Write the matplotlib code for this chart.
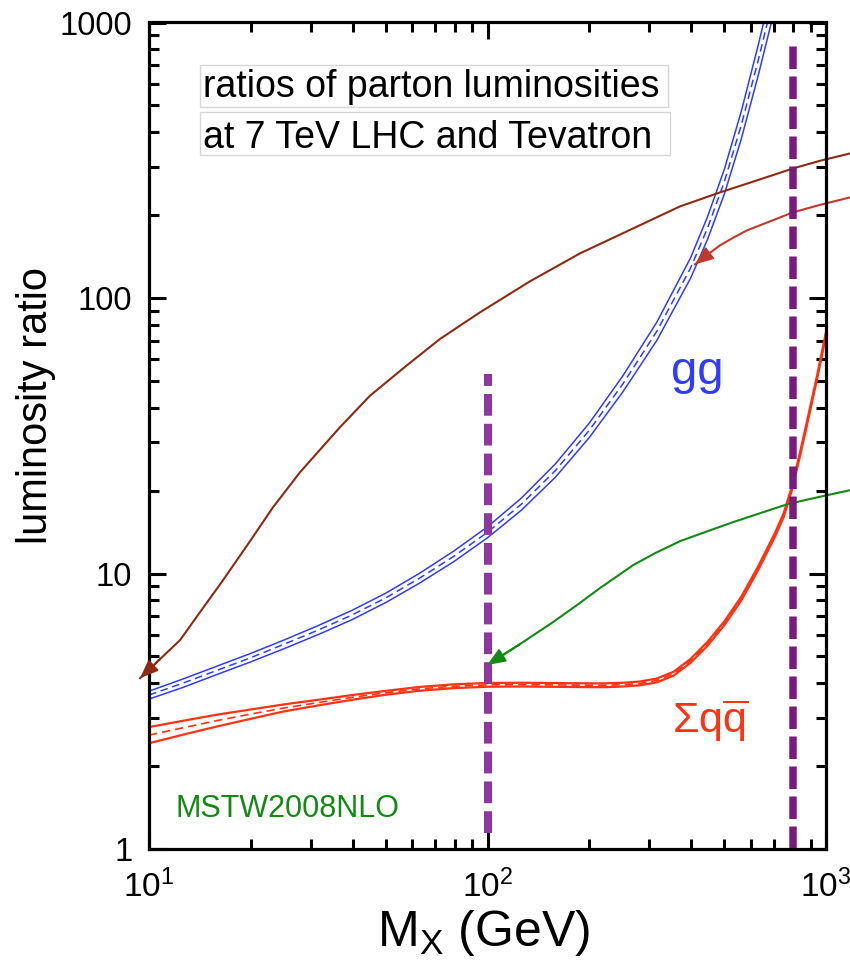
import matplotlib
matplotlib.use('Agg')
import matplotlib.pyplot as plt
from matplotlib.patches import Rectangle
from matplotlib.ticker import FixedLocator, LogLocator, NullFormatter

plt.rcParams['font.family'] = ['Liberation Sans', 'DejaVu Sans']
plt.rcParams['mathtext.fontset'] = 'custom'
plt.rcParams['mathtext.rm'] = 'Liberation Sans'
plt.rcParams['mathtext.it'] = 'Liberation Sans:italic'
plt.rcParams['mathtext.bf'] = 'Liberation Sans:bold'
plt.rcParams['mathtext.default'] = 'regular'

# gg luminosity ratio (central, upper, lower)
gg_x = [10, 12.6, 15.8, 20, 25.1, 31.6, 39.8, 50.1, 63.1, 79.4, 100, 125.9, 158.5,
        199.5, 251.2, 316.2, 398.1, 446.7, 501.2, 562.3, 631, 707.9]
gg_mid = [3.62, 4.00, 4.44, 4.95, 5.54, 6.23, 7.07, 8.16, 9.63, 11.53, 14.11, 17.85,
          23.6, 33.0, 48.8, 75.6, 128.5, 179.4, 265, 425, 731, 1306]
gg_up = [3.74, 4.14, 4.60, 5.13, 5.74, 6.47, 7.35, 8.49, 10.03, 12.05, 14.77, 18.78,
         24.95, 35.05, 52.2, 81.6, 139.9, 197.2, 293.9, 476.9, 829.7, 1499]
gg_lo = [3.50, 3.86, 4.29, 4.78, 5.34, 6.00, 6.80, 7.85, 9.24, 11.03, 13.48, 16.97,
         22.33, 31.07, 45.65, 70.07, 118.0, 163.2, 239.0, 378.8, 644.1, 1138]

# sum q qbar luminosity ratio (central, upper, lower)
qq_x = [10, 12.6, 15.8, 20, 25.1, 31.6, 39.8, 50.1, 63.1, 79.4, 100, 125.9, 158.5,
        199.5, 223.9, 251.2, 281.8, 316.2, 354.8, 398.1, 446.7, 501.2, 562.3, 631,
        707.9, 749.9, 794.3, 841.4, 891.3, 944.1, 1000]
qq_mid = [2.59, 2.754, 2.92, 3.09, 3.25, 3.40, 3.55, 3.69, 3.814, 3.897, 3.943, 3.95,
          3.94, 3.93, 3.93, 3.95, 3.99, 4.09, 4.33, 4.82, 5.56, 6.60, 8.12, 10.47,
          13.88, 16.3, 20.5, 27.7, 38.0, 52.5, 74.1]
qq_up = [2.77, 2.92, 3.07, 3.21, 3.35, 3.48, 3.62, 3.75, 3.875, 3.96, 4.006, 4.013,
         4.003, 3.993, 3.993, 4.013, 4.054, 4.156, 4.40, 4.897, 5.65, 6.71, 8.25, 10.64,
         14.1, 16.56, 20.83, 28.14, 38.6, 53.3, 75.3]
qq_lo = [2.42, 2.60, 2.78, 2.97, 3.16, 3.32, 3.48, 3.63, 3.754, 3.836, 3.881, 3.888,
         3.878, 3.868, 3.868, 3.888, 3.927, 4.025, 4.261, 4.744, 5.47, 6.50, 7.99, 10.31,
         13.66, 16.04, 20.18, 27.26, 37.4, 51.7, 72.9]

# annotation arrows (curves ending in an arrow head at the first point)
arr1_x = [9.41, 10.78, 12.35, 14.15, 16.55, 19.88, 23.25, 27.93, 36.66, 44.97, 57.82,
          72.38, 95.0, 133.6, 187.6, 263.6, 370.4, 486.3, 638.3, 799, 960, 1178]
arr1_y = [4.17, 4.89, 5.73, 7.24, 9.46, 13.1, 17.4, 23.3, 33.96, 44.2, 57.0, 71.0,
          88.7, 115, 145.2, 176.7, 215, 241.7, 269.5, 295.3, 314.8, 334.8]
arr2_x = [410, 448, 486.3, 531, 584.4, 683.3, 799, 960, 1178]
arr2_y = [132.5, 144, 155.3, 165.3, 176, 189.7, 204.6, 217.8, 231.8]
arr3_x = [99.7, 124.7, 156.1, 183.8, 214.9, 246.3, 269.1, 312.5, 370.4, 439, 531.3,
          638.3, 777.6, 1007, 1178]
arr3_y = [4.65, 5.54, 6.66, 7.68, 8.85, 9.94, 10.72, 11.85, 13.1, 14.13, 15.36, 16.55,
          17.92, 19.24, 20.06]

# vertical dashed markers
mark_x = [100, 800]
mark_ylo = [1.14, 1.0]
mark_yhi = [53, 830]

blue = '#2F3CFF'
red = '#FF3212'
brown1 = '#8E2A12'
brown2 = '#C0392B'
green = '#138A13'

W, H = 850, 963
fig = plt.figure(figsize=(8.5, 9.63), dpi=100)
ax = fig.add_axes([149 / W, 1 - 849 / H, (826 - 149) / W, (849 - 22.5) / H])
ax.set_xscale('log')
ax.set_yscale('log')

ax.plot(gg_x, gg_up, color=blue, lw=1.1)
ax.plot(gg_x, gg_lo, color=blue, lw=1.1)
ax.plot(gg_x, gg_mid, color=blue, lw=1.1, dashes=(5, 3))

ax.plot(qq_x, qq_up, color=red, lw=1.6)
ax.plot(qq_x, qq_lo, color=red, lw=1.6)
ax.plot(qq_x, qq_mid, color=red, lw=1.2, dashes=(5, 3))

for xs, ys, c in [(arr1_x, arr1_y, brown1), (arr2_x, arr2_y, brown2), (arr3_x, arr3_y, green)]:
    ax.plot(xs, ys, color=c, lw=1.5, clip_on=False)
    ax.annotate('', xy=(xs[0], ys[0]), xytext=(xs[1], ys[1]),
                arrowprops=dict(arrowstyle='-|>,head_length=1.0,head_width=0.4',
                                color=c, lw=1.5, shrinkA=0, shrinkB=0, mutation_scale=11),
                annotation_clip=False)

ax.plot([mark_x[0]] * 2, [mark_ylo[0], mark_yhi[0]], color='#9036A2', lw=5.8,
        dashes=(2.7, 1.0), solid_capstyle='butt', dash_capstyle='butt')
ax.plot([mark_x[1]] * 2, [mark_ylo[1], mark_yhi[1]], color='#7A1A7C', lw=5.4,
        dashes=(3.0, 1.0), solid_capstyle='butt', dash_capstyle='butt')

ax.set_xlim(10, 1000)
ax.set_ylim(1, 1000)

ax.xaxis.set_major_locator(FixedLocator([10, 100, 1000]))
ax.xaxis.set_minor_locator(LogLocator(base=10, subs=range(2, 10)))
ax.xaxis.set_minor_formatter(NullFormatter())
ax.set_xticklabels([r'$10^{1}$', r'$10^{2}$', r'$10^{3}$'], fontsize=24)
ax.yaxis.set_major_locator(FixedLocator([1, 10, 100, 1000]))
ax.yaxis.set_minor_locator(LogLocator(base=10, subs=range(2, 10)))
ax.yaxis.set_minor_formatter(NullFormatter())
ax.set_yticklabels(['1', '10', '100', '1000'], fontsize=23.5)

ax.tick_params(which='both', direction='in', top=True, right=True, width=2.2)
ax.tick_params(which='major', length=12, pad=12)
ax.tick_params(axis='x', which='major', pad=15)
ax.tick_params(which='minor', length=7)
for s in ax.spines.values():
    s.set_linewidth(2.3)

# title boxes
for (x0, y0, x1, y1) in [(200, 65, 668, 107), (200, 112, 670, 155)]:
    fig.patches.append(Rectangle((x0 / W, 1 - y1 / H), (x1 - x0) / W, (y1 - y0) / H,
                                 transform=fig.transFigure, facecolor='white',
                                 edgecolor='#d6d6d6', lw=1, zorder=3))
fig.text(203 / W, 1 - 97 / H, 'ratios of parton luminosities', fontsize=27,
         va='baseline', zorder=4)
fig.text(203 / W, 1 - 148 / H, 'at 7 TeV LHC and Tevatron', fontsize=27,
         va='baseline', zorder=4)

fig.text(697 / W, 1 - 372 / H, 'gg', fontsize=34, color=blue, ha='center', va='center')
fig.text(672 / W, 1 - 733 / H, r'$\Sigma$q$\overline{\mathrm{q}}$', fontsize=31, color=red,
         va='baseline')
fig.text(175 / W, 1 - 817 / H, 'MSTW2008NLO', fontsize=22, color=green, va='baseline')

fig.text(36 / W, 1 - 405 / H, 'luminosity ratio', fontsize=30, rotation=90,
         ha='center', va='center')
fig.text(483 / W, 1 - 946 / H, r'M$_\mathrm{X}$ (GeV)', fontsize=36, ha='center',
         va='baseline')

fig.savefig('out.png', dpi=100)
